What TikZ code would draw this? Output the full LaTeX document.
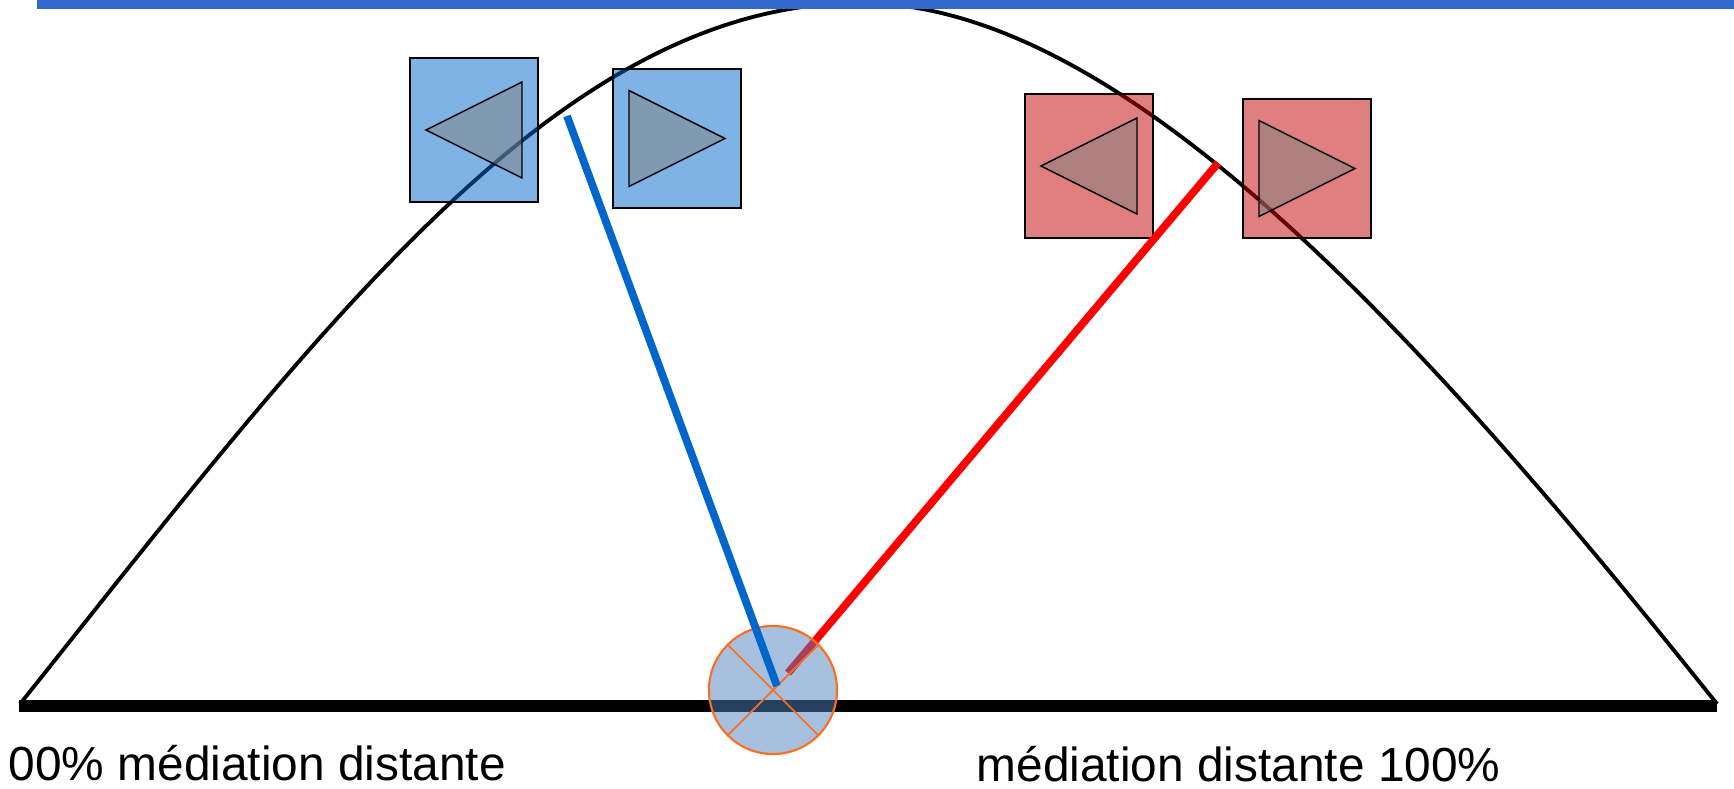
\documentclass[tikz,border=0pt]{standalone}
\usepackage{fontspec}
\setmainfont{Liberation Sans}
\definecolor{barblue}{RGB}{50,103,204}
\definecolor{boxblue}{RGB}{0,102,204}
\definecolor{boxred}{RGB}{192,0,0}
\definecolor{mixblue}{RGB}{79,129,189}
\definecolor{mixorange}{RGB}{250,110,30}
\begin{document}
\begin{tikzpicture}[x = 0.01cm, y = -0.01cm,
        box/.style = {draw = black, line width = 0.5pt, fill opacity = 0.5, minimum width = 1.28cm, inner sep = 0pt, outer sep = 0pt},
        arrowtri/.style = {draw = black, line width = 0.4pt, fill = gray, fill opacity = 0.5},
        link/.style = {line width = 2.2pt},
        label/.style = {anchor = base west, inner sep = 0pt, font = \fontsize{13.6}{16}\selectfont}]
            \useasboundingbox (0,0) rectangle (1734,788);
            \draw[line width = 1.1pt] (20,704) .. controls (320,328) and (560,3) .. (860,3) .. controls (1120,3) and (1417,328) .. (1717,704);
            \coordinate (left) at (19,706);
            \coordinate (right) at (1717,706);
            \draw[line width = 3.6pt] (left) -- (right);
            \fill[barblue] (37,0) rectangle (1734,9);
            \foreach \name/\cx/\cy/\h/\col/\dir in {bleft/474/130/1.44/boxblue/-1, bright/677/138.5/1.39/boxblue/1, rleft/1089/166/1.44/boxred/-1, rright/1307/168.5/1.39/boxred/1} {
                \node[box, fill = \col, minimum height = \h cm] (\name) at (\cx,\cy) {};
                \draw[arrowtri] ({\cx-48*(\dir)},{\cy-48}) -- ({\cx+48*(\dir)},\cy) -- ({\cx-48*(\dir)},{\cy+48}) -- cycle;
            }
            \coordinate (redtop) at (1218,163);
            \coordinate (redend) at (788,673);
            \draw[link, red] (redtop) -- (redend);
            \node[circle, draw = mixorange, line width = 0.6pt, fill = mixblue, fill opacity = 0.5, minimum size = 1.28cm, inner sep = 0pt, outer sep = 0pt] (mix) at (773,690) {};
            \draw[mixorange, line width = 0.5pt] (mix.45) -- (mix.225) (mix.135) -- (mix.315);
            \coordinate (bluetop) at (567,116);
            \coordinate (blueend) at (777,686);
            \draw[link, boxblue] (bluetop) -- (blueend);
            \node[label] (lowtext) at (8,780) {00\% médiation distante};
            \node[label] (hightext) at (976,781) {médiation distante 100\%};
        \end{tikzpicture}
\end{document}
